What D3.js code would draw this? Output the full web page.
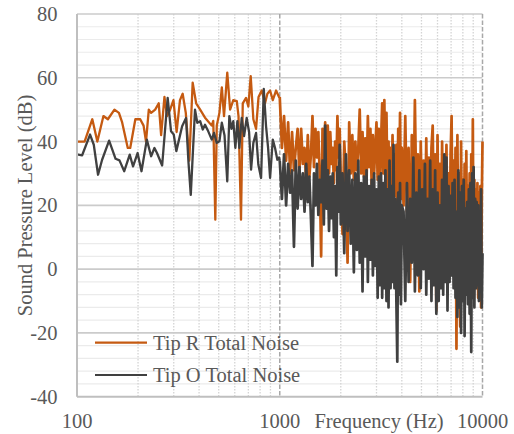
<!DOCTYPE html>
<html><head><meta charset="utf-8">
<script src="https://cdn.jsdelivr.net/npm/d3@7"></script>
<style>html,body{margin:0;padding:0;background:#fff;} svg{display:block;} text{font-family:'Liberation Serif','DejaVu Serif','Times New Roman',Times,serif;}</style>
</head><body><svg id="c" width="514" height="434"></svg>
<script>
// ---- data ----
const seriesNames = ["Tip R Total Noise", "Tip O Total Noise"];
const xTicks = [100, 1000, 10000];
const yTicks = [-40, -20, 0, 20, 40, 60, 80];

const lowFreqR = [100,109,119,126,135,142,153,161,167,178,183,194,205,213,219,226,232,243,253,260,270,278,288,299,310,322,332,344,358,372,387,405,428,462,470,481,489,504,518,531,551,569,590,614,626,644,657,682,700,719,741,764,786,815,846,869,896,924,959,992];
const lowR = [40,40,47,40,48,47,50,49,46,38,38,47,47,45,40,50,49,50,52,42,54,48,50,53,43,53,55,49,34,58.5,52,50,47.5,45,46.5,15.5,45,49,57,48,61.6,50,53,52.7,48,15.5,52,53.7,51,60.5,47,44,54,56,52,55,56,53,56,54];

const lowFreqO = [100,106,116,121,127,133,144,155,162,171,182,189,199,208,221,232,241,248,263,280,291,300,309,330,345,354,364,382,392,405,417,428,444,462,474,489,504,518,534,551,564,578,590,604,618,632,649,667,687,706,722,741,764,784,809,834,856,876,896,924,948,973,992];
const lowO = [36,35.7,42.2,39,29.6,34.3,40.3,34.6,34.1,30.7,35.9,32.2,36.4,30.7,40.6,35.4,38,36.4,32.5,53.7,43.2,42.2,37,44.8,47.4,34.3,23.3,50,45.9,46.4,43.8,45.3,43.2,40.6,42.7,39.6,40.1,45.9,42,27.5,48,44,46.4,38,46.4,38,47.4,41.7,47.4,43,31.2,39.6,42.7,32.8,28.6,56.5,44.8,38,28.6,40.6,38,34.3,35];

const hiFreq = [1000,1025,1050,1075,1100,1125,1150,1175,1200,1225,1250,1275,1300,1325,1350,1375,1400,1425,1450,1475,1500,1525,1550,1575,1600,1625,1650,1675,1700,1725,1750,1775,1800,1825,1850,1875,1900,1925,1950,1975,2000,
2040,2080,2120,2160,2200,2240,2280,2320,2360,2400,2440,2480,2520,2560,2600,2640,2680,2720,2760,2800,2840,2880,2920,2960,3000,3040,3080,3120,3160,3200,3240,3280,3320,3360,3400,3440,3480,3520,3560,3600,3640,3680,3720,3760,3800,3840,3880,3920,3960,4000,
4080,4160,4240,4320,4400,4480,4560,4640,4720,4800,4880,4960,5040,5120,5200,5280,5360,5440,5520,5600,5680,5760,5840,5920,6000,6080,6160,6240,6320,6400,6480,6560,6640,6720,6800,6880,6960,7040,7120,7200,7280,7360,7440,7520,7600,7680,7760,7840,7920,8000,8080,8160,8240,8320,8400,8480,8560,8640,8720,8800,8880,8960,9040,9120,9200,9280,9360,9440,9520,9600,9680,9760,9840,9920,10000];
const hiR = [54,38,48,34,46,30,43,31,38,44,30,44,33,38,27,42,29,36,48,32,44,35,43,29,4,44,34,46,31,45,30,43,33,38,27,40,31,48,35,44,28,
11,40,30,2,46,30,42,28,40,31,38,50,30,43,29,41,27,48,32,44,26,42,30,38,46,28,44,25,40,52,30,53,27,49,24,40,22,38,25,42,20,36,23,39,21,44,24,49,22,38,
20,48,18,38,-4,42,16,53,20,36,-7,40,14,34,12,41,10,35,8,38,45,12,36,-13,42,10,33,6,40,12,32,8,39,10,30,5,36,48,8,34,2,38,-25,42,5,30,-18,40,4,28,-2,33,0,37,3,26,-4,30,2,36,0,47,-3,28,4,25,-6,27,-9,24,-4,26,-12,22,40];
const hiO = [34,22,36,20,33,24,31,7,34,19,32,22,30,18,33,21,29,16,1,30,20,33,17,28,21,34,14,45,19,31,12,29,16,30,10,26,-2,32,18,39,14,
30,5,36,12,31,8,28,-1,30,6,34,2,27,-7,29,4,31,-4,26,3,28,-2,30,1,25,-9,29,-5,30,-9,27,-6,31,-10,25,-12,34,-6,26,-4,39,-6,22,-10,-29,24,-8,27,-11,20,
18,-10,27,-4,22,2,35,-7,24,-2,31,-6,25,0,33,-8,22,-3,34,-10,25,-5,31,-14,24,-10,20,-6,28,-8,36,-4,35,-13,26,-4,23,-2,27,-6,28,-9,18,-15,31,-12,24,-20,26,-10,28,-21,19,-8,21,-11,25,-14,27,-26,30,-9,32,-12,22,-6,21,-5,20,-10,18,-7,25,-12,5];

const colors = ["#C55A11", "#404040"];

// ---- build ----
const lowSets = [lowFreqR.map((f,i)=>[f,lowR[i]]), lowFreqO.map((f,i)=>[f,lowO[i]])];
const hiSets = [hiFreq.map((f,i)=>[f,hiR[i]]), hiFreq.map((f,i)=>[f,hiO[i]])];

const W=514,H=434;
const P = {l:77, r:482.5, t:14, b:396.7};
const x = d3.scaleLog().domain([100,10000]).range([P.l,P.r]);
const y = d3.scaleLinear().domain([-40,80]).range([P.b,P.t]);
const svg = d3.select("#c");
const txt = "#595959", fs = 20.5;
const FF = "'Liberation Serif','DejaVu Serif','Times New Roman',Times,serif";
svg.append("rect").attr("width",W).attr("height",H).attr("fill","#fff");

// horizontal minor gridlines
const yMinor = d3.range(-40, 81, 4).filter(v => v % 20 !== 0);
svg.append("g").selectAll("line").data(yMinor).join("line")
  .attr("x1",P.l).attr("x2",P.r).attr("y1",d=>y(d)).attr("y2",d=>y(d))
  .attr("stroke","#EBEBEB").attr("stroke-width",1.2);
// vertical minor gridlines (dotted)
const xMinor = x.ticks().filter(v => !xTicks.includes(v));
svg.append("g").selectAll("line").data(xMinor).join("line")
  .attr("x1",d=>x(d)).attr("x2",d=>x(d)).attr("y1",P.t).attr("y2",P.b)
  .attr("stroke","#D4D4D4").attr("stroke-width",1.3).attr("stroke-dasharray","1.5,1.5");
// horizontal major
svg.append("g").selectAll("line").data(yTicks.filter(v=>v>-40)).join("line")
  .attr("x1",P.l).attr("x2",P.r).attr("y1",d=>y(d)).attr("y2",d=>y(d))
  .attr("stroke","#CBCBCB").attr("stroke-width",1.6);
// vertical major (dashed)
svg.append("g").selectAll("line").data(xTicks.slice(1)).join("line")
  .attr("x1",d=>x(d)).attr("x2",d=>x(d)).attr("y1",P.t).attr("y2",P.b)
  .attr("stroke","#A8A8A8").attr("stroke-width",1.5).attr("stroke-dasharray","4.5,2");

// series (low band drawn thinner, dense high band slightly heavier)
const line = d3.line().x(d=>x(d[0])).y(d=>y(d[1]));
[0,1].forEach(i=>{
  const low = lowSets[i].concat([hiSets[i][0]]);
  svg.append("path").datum(low).attr("d",line).attr("fill","none")
    .attr("stroke",colors[i]).attr("stroke-width",2.3).attr("stroke-linejoin","round");
  svg.append("path").datum(hiSets[i]).attr("d",line).attr("fill","none")
    .attr("stroke",colors[i]).attr("stroke-width",2.7).attr("stroke-linejoin","round");
});

// axis lines
svg.append("line").attr("x1",P.l).attr("x2",P.l).attr("y1",P.t).attr("y2",P.b)
  .attr("stroke","#BFBFBF").attr("stroke-width",2);
svg.append("line").attr("x1",P.l).attr("x2",P.r).attr("y1",P.b).attr("y2",P.b)
  .attr("stroke","#BFBFBF").attr("stroke-width",2);

// y tick labels
svg.append("g").selectAll("text").data(yTicks).join("text")
  .attr("x",57.5).attr("y",d=>y(d)+7).attr("text-anchor","end")
  .attr("font-family",FF).attr("fill",txt).attr("font-size",fs).text(d=>d);
// x tick labels
svg.append("g").selectAll("text").data(xTicks).join("text")
  .attr("x",d=>x(d)).attr("y",428).attr("text-anchor","middle")
  .attr("font-family",FF).attr("fill",txt).attr("font-size",fs).text(d=>d);
// axis titles
svg.append("text").attr("x",379).attr("y",428).attr("text-anchor","middle")
  .attr("font-family",FF).attr("fill",txt).attr("font-size",fs).text("Frequency (Hz)");
svg.append("text").attr("transform","translate(32,205.5) rotate(-90)").attr("text-anchor","middle")
  .attr("font-family",FF).attr("fill",txt).attr("font-size",fs).text("Sound Pressure Level (dB)");

// legend
const lg = svg.append("g");
seriesNames.forEach((n,i)=>{
  const ly = 342.7 + i*32.3;
  lg.append("line").attr("x1",95).attr("x2",147).attr("y1",ly).attr("y2",ly)
    .attr("stroke",colors[i]).attr("stroke-width",2.2);
  lg.append("text").attr("x",153).attr("y",ly+6.8).attr("font-family",FF)
    .attr("fill",txt).attr("font-size",fs).text(n);
});
</script></body></html>
